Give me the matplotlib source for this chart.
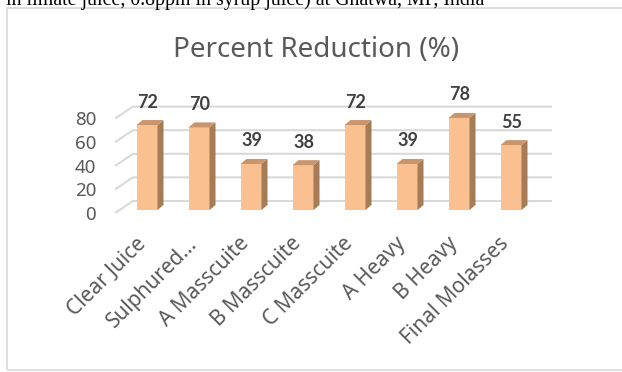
import matplotlib
matplotlib.use("Agg")
import matplotlib.pyplot as plt
from matplotlib.patches import Polygon, Rectangle

categories = ["Clear Juice", "Sulphured...", "A Masscuite", "B Masscuite",
              "C Masscuite", "A Heavy", "B Heavy", "Final Molasses"]
values = [72, 70, 39, 38, 72, 39, 78, 55]
yticks = [0, 20, 40, 60, 80]
title = "Percent Reduction (%)"
caption = "in limate juice, 0.8ppm in syrup juice) at Ghatwa, MP, India"

W, H = 622, 372
fig = plt.figure(figsize=(W / 100, H / 100), dpi=100)
ax = fig.add_axes([0, 0, 1, 1])
ax.set_axis_off()

# pixel mapping: x_px = X0 + SX*x ; y_px = Y0 - SY*v
X0, SX = 147.0, 52.0
Y0, SY = 210.0, 1.18
ax.set_xlim(-X0 / SX, (W - X0) / SX)
ax.set_ylim((Y0 - H) / SY, Y0 / SY)

font = "Noto Sans"
grid_c = "#D9D9D9"

# border of chart area
fig.patches.append(Rectangle((7 / W, 2 / H), 1.2, (370 - 8) / H,
                             transform=fig.transFigure, fill=False,
                             edgecolor=grid_c, linewidth=1.2))

# cut-off caption text above the chart
fig.text(6 / W, 1 - 5.0 / H, caption, ha="left", va="baseline",
         fontsize=14.3, family="Liberation Serif", color="black")

# gridlines (floor/back wall perspective)
fl_x, bl_x, r_x = (115 - X0) / SX, (133 - X0) / SX, (552 - X0) / SX
fl_dy, bl_dy = (Y0 - 213) / SY, (Y0 - 201) / SY
for g in yticks:
    ax.plot([fl_x, bl_x, r_x], [g + fl_dy, g + bl_dy, g + bl_dy],
            color=grid_c, linewidth=1.5, solid_capstyle="butt", zorder=1)
    ax.text((96 - X0) / SX, g - 4, str(g), ha="right", va="center",
            fontsize=13.5, family=font, color="#595959")

# 3D bars
x = list(range(len(values)))
w = 21 / SX
dx, dy = 6 / SX, 5 / SY
front_c, side_c, top_c = "#FAC090", "#A67C57", "#C8956C"
ax.bar(x, values, width=w, color=front_c, zorder=3, linewidth=0)
for xi, v in zip(x, values):
    r = xi + w / 2
    l = xi - w / 2
    ax.add_patch(Polygon([(r, 0), (r + dx, dy), (r + dx, v + dy), (r, v)],
                         closed=True, facecolor=side_c, edgecolor="none", zorder=3))
    ax.add_patch(Polygon([(l, v), (r, v), (r + dx, v + dy), (l + dx, v + dy)],
                         closed=True, facecolor=top_c, edgecolor="none", zorder=3))
    ax.text(xi + 0.02, v + 19.5, str(v), ha="center", va="center",
            fontsize=13, fontweight="bold", family="Lato", color="#404040", zorder=4)

# category labels
for xi, lab in zip(x, categories):
    ax.text(xi + 0.05, (Y0 - 233) / SY, lab, rotation=45, ha="right", va="top",
            fontsize=15, family=font, color="#595959")

# title
ax.text((316.5 - X0) / SX, (Y0 - 50) / SY, title, ha="center", va="center",
        fontsize=20, family=font, color="#595959")

fig.savefig("out.png", dpi=100)
